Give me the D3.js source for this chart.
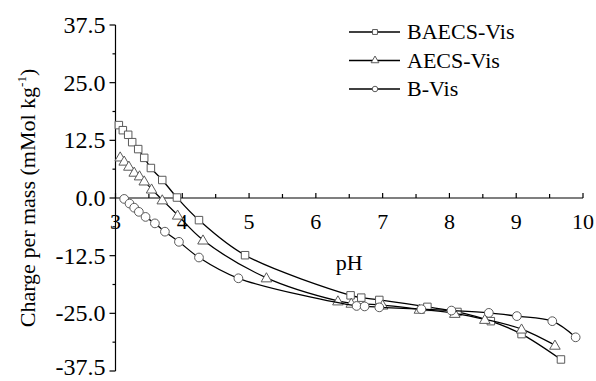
<!DOCTYPE html>
<html>
<head>
<meta charset="utf-8">
<script src="https://cdn.jsdelivr.net/npm/d3@7"></script>
<style>
  body { margin: 0; background: #fff; }
  svg { display: block; }
  text { font-family: "Liberation Serif", "Times New Roman", serif; fill: #000; }
</style>
</head>
<body>
<svg id="chart" width="596" height="381"></svg>
<script>
// data
var baecsPh = [3.05, 3.11, 3.19, 3.25, 3.34, 3.43, 3.53, 3.70, 3.92, 4.25, 4.94, 6.52, 6.68, 6.95, 7.67, 8.12, 8.62, 9.08, 9.67],
  baecsCharge = [15.8, 14.7, 13.7, 12.1, 10.6, 8.7, 6.5, 3.9, 0.1, -4.8, -12.4, -21.1, -21.6, -22.1, -23.6, -24.7, -26.7, -29.5, -35.0];

var aecsPh = [3.07, 3.13, 3.20, 3.28, 3.36, 3.43, 3.54, 3.70, 3.93, 4.31, 5.26, 6.33, 6.53, 7.00, 7.55, 8.08, 8.53, 9.08, 9.58],
  aecsCharge = [8.9, 8.0, 6.9, 5.6, 4.8, 3.7, 1.95, -0.4, -3.7, -9.1, -17.3, -22.3, -22.8, -23.2, -24.1, -25.0, -26.3, -28.4, -31.9];

var bPh = [3.13, 3.21, 3.28, 3.35, 3.45, 3.59, 3.74, 3.95, 4.25, 4.84, 6.61, 6.73, 6.95, 7.58, 8.03, 8.59, 9.01, 9.54, 9.89],
  bCharge = [-0.2, -1.2, -2.1, -3.0, -4.1, -5.5, -7.3, -9.5, -12.9, -17.4, -23.4, -23.5, -23.7, -24.1, -24.4, -24.9, -25.6, -26.7, -30.2];

var seriesNames = ["BAECS-Vis", "AECS-Vis", "B-Vis"],
  seriesShapes = ["square", "triangle", "circle"];

var xTicks = [3, 4, 5, 6, 7, 8, 9, 10],
  xMinor = [3.5, 4.5, 5.5, 6.5, 7.5, 8.5, 9.5],
  yTicks = [37.5, 25.0, 12.5, 0.0, -12.5, -25.0, -37.5],
  yTickLabels = ["37.5", "25.0", "12.5", "0.0", "-12.5", "-25.0", "-37.5"],
  yMinor = [31.25, 18.75, 6.25, -6.25, -18.75, -31.25];

var series = [
  {name: seriesNames[0], shape: seriesShapes[0], ph: baecsPh, charge: baecsCharge},
  {name: seriesNames[1], shape: seriesShapes[1], ph: aecsPh, charge: aecsCharge},
  {name: seriesNames[2], shape: seriesShapes[2], ph: bPh, charge: bCharge}
];

var svg = d3.select("#chart");

var x = d3.scaleLinear().domain([3, 10]).range([115.5, 583]),
  y = d3.scaleLinear().domain([-37.5, 37.5]).range([371, 25]);

var markerColor = "#5a5a5a";

// symbol path generators
var symbolPath = function(shape, size){
  var t = shape === "square" ? d3.symbolSquare :
    shape === "triangle" ? d3.symbolTriangle : d3.symbolCircle;
  return d3.symbol().type(t).size(size)();
};

// y axis, ticks outward (left)
var yAxis = svg.append("g").attr("transform", "translate(" + x(3) + ",0)");
yAxis.append("line")
  .attr("y1", y(37.5)).attr("y2", y(-37.5))
  .attr("stroke", "#000").attr("stroke-width", 1.2);
yAxis.selectAll("line.major").data(yTicks).enter().append("line")
  .attr("class", "major")
  .attr("x1", -6).attr("x2", 0)
  .attr("y1", y).attr("y2", y)
  .attr("stroke", "#000").attr("stroke-width", 1.2);
yAxis.selectAll("line.minor").data(yMinor).enter().append("line")
  .attr("class", "minor")
  .attr("x1", -3).attr("x2", 0)
  .attr("y1", y).attr("y2", y)
  .attr("stroke", "#000").attr("stroke-width", 1.2);
yAxis.selectAll("text").data(yTicks).enter().append("text")
  .attr("x", -10)
  .attr("y", function(d){ return Math.min(y(d) + 8, 375); })
  .attr("text-anchor", "end")
  .style("font-size", "24px")
  .text(function(d, i){ return yTickLabels[i]; });

// x axis sits at charge = 0, ticks point up
var xAxis = svg.append("g").attr("transform", "translate(0," + y(0) + ")");
xAxis.append("line")
  .attr("x1", x(3)).attr("x2", x(10))
  .attr("stroke", "#000").attr("stroke-width", 1.2);
xAxis.selectAll("line.major").data(xTicks).enter().append("line")
  .attr("class", "major")
  .attr("x1", x).attr("x2", x)
  .attr("y1", -5).attr("y2", 0)
  .attr("stroke", "#000").attr("stroke-width", 1.2);
xAxis.selectAll("line.minor").data(xMinor).enter().append("line")
  .attr("class", "minor")
  .attr("x1", x).attr("x2", x)
  .attr("y1", -4).attr("y2", 0)
  .attr("stroke", "#000").attr("stroke-width", 1.2);
xAxis.selectAll("text").data(xTicks).enter().append("text")
  .attr("x", x)
  .attr("y", 31)
  .attr("text-anchor", "middle")
  .style("font-size", "22px")
  .text(function(d){ return d; });

// axis titles
svg.append("text")
  .attr("x", (x(3) + x(10)) / 2)
  .attr("y", 270)
  .attr("text-anchor", "middle")
  .style("font-size", "22px")
  .text("pH");

var ylab = svg.append("text")
  .attr("transform", "translate(35," + y(0) + ") rotate(-90)")
  .attr("text-anchor", "middle")
  .style("font-size", "22px");
ylab.append("tspan").text("Charge per mass (mMol kg");
ylab.append("tspan").attr("dy", -9).style("font-size", "13px").text("-1");
ylab.append("tspan").attr("dy", 9).text(")");

// curves
var line = d3.line()
  .x(function(d){ return x(d[0]); })
  .y(function(d){ return y(d[1]); })
  .curve(d3.curveCatmullRom.alpha(0.5));

var group = svg.selectAll("g.series").data(series).enter().append("g")
  .attr("class", "series");

group.append("path")
  .attr("d", function(d){ return line(d3.zip(d.ph, d.charge)); })
  .attr("fill", "none")
  .attr("stroke", "#000")
  .attr("stroke-width", 1.3);

group.each(function(d){
  d3.select(this).selectAll("path.pt")
    .data(d3.zip(d.ph, d.charge))
    .enter().append("path")
    .attr("class", "pt")
    .attr("d", symbolPath(d.shape, d.shape === "triangle" ? 48 : d.shape === "square" ? 56 : 60))
    .attr("transform", function(p){
      return "translate(" + x(p[0]) + "," + (y(p[1]) + (d.shape === "triangle" ? 1 : 0)) + ")";
    })
    .attr("fill", "#fff")
    .attr("stroke", markerColor)
    .attr("stroke-width", 1);
});

// legend
var legend = svg.selectAll("g.legend").data(series).enter().append("g")
  .attr("class", "legend")
  .attr("transform", function(d, i){ return "translate(349," + (32 + i * 28.5) + ")"; });

legend.append("line")
  .attr("x1", 0).attr("x2", 51)
  .attr("stroke", "#000").attr("stroke-width", 1.3);
legend.append("path")
  .attr("d", function(d){ return symbolPath(d.shape, d.shape === "triangle" ? 26 : 24); })
  .attr("transform", "translate(26,0)")
  .attr("fill", "#fff")
  .attr("stroke", markerColor)
  .attr("stroke-width", 1);
legend.append("text")
  .attr("x", 58)
  .attr("y", 7)
  .style("font-size", "22px")
  .text(function(d){ return d.name; });
</script>
</body>
</html>
